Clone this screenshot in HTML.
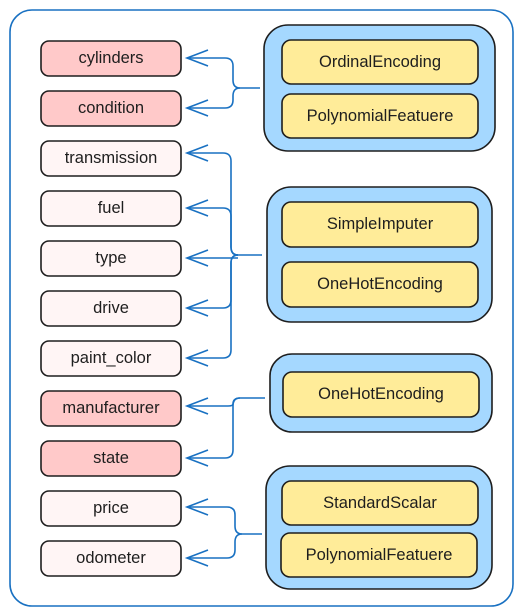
<!DOCTYPE html>
<html><head><meta charset="utf-8"><style>
html,body{margin:0;padding:0;background:#fff;width:523px;height:616px;overflow:hidden}
svg text{font-family:"Liberation Sans",sans-serif;font-size:16.5px;fill:#1e1e1e;text-anchor:middle;dominant-baseline:central}
</style></head><body>
<svg width="523" height="616" viewBox="0 0 523 616">
<rect x="10" y="10" width="503" height="596" rx="22" fill="#fff" stroke="#1971c2" stroke-width="1.6"/>
<g stroke="#1e1e1e" stroke-width="1.6">
<rect x="41" y="41" width="140" height="35" rx="8" fill="#ffc9c9"/>
<rect x="41" y="91" width="140" height="35" rx="8" fill="#ffc9c9"/>
<rect x="41" y="141" width="140" height="35" rx="8" fill="#fff5f5"/>
<rect x="41" y="191" width="140" height="35" rx="8" fill="#fff5f5"/>
<rect x="41" y="241" width="140" height="35" rx="8" fill="#fff5f5"/>
<rect x="41" y="291" width="140" height="35" rx="8" fill="#fff5f5"/>
<rect x="41" y="341" width="140" height="35" rx="8" fill="#fff5f5"/>
<rect x="41" y="391" width="140" height="35" rx="8" fill="#ffc9c9"/>
<rect x="41" y="441" width="140" height="35" rx="8" fill="#ffc9c9"/>
<rect x="41" y="491" width="140" height="35" rx="8" fill="#fff5f5"/>
<rect x="41" y="541" width="140" height="35" rx="8" fill="#fff5f5"/>
<rect x="264" y="25" width="231" height="126" rx="24" fill="#a5d8ff"/>
<rect x="267" y="187" width="225" height="135" rx="24" fill="#a5d8ff"/>
<rect x="270" y="354" width="222" height="78" rx="22" fill="#a5d8ff"/>
<rect x="266" y="466" width="226" height="123" rx="24" fill="#a5d8ff"/>
<rect x="282" y="40" width="196" height="44" rx="9" fill="#ffec99"/>
<rect x="282" y="94" width="196" height="44" rx="9" fill="#ffec99"/>
<rect x="282" y="202" width="196" height="45" rx="9" fill="#ffec99"/>
<rect x="282" y="262" width="196" height="45" rx="9" fill="#ffec99"/>
<rect x="283" y="372" width="196" height="45" rx="9" fill="#ffec99"/>
<rect x="282" y="481" width="196" height="44" rx="9" fill="#ffec99"/>
<rect x="281" y="533" width="196" height="44" rx="9" fill="#ffec99"/>
</g>
<g fill="none" stroke="#1971c2" stroke-width="1.6">
<path d="M260 88 H240 Q233 88 233 80 V66 Q233 58 225 58 H187"/>
<path d="M240 88 Q233 88 233 96 V100 Q233 108 225 108 H187"/>
<path d="M262 255 H238 Q231 255 231 247 V161 Q231 153 223 153 H187"/>
<path d="M238 255 Q231 255 231 247 V216 Q231 208 223 208 H187"/>
<path d="M238 258 H187"/>
<path d="M238 255 Q231 255 231 263 V300 Q231 308 223 308 H187"/>
<path d="M238 255 Q231 255 231 263 V350 Q231 358 223 358 H187"/>
<path d="M265 398 H240 Q233 398 233 404 Q233 406 228 406 H187"/>
<path d="M240 398 Q233 398 233 406 V450 Q233 458 225 458 H187"/>
<path d="M262 534 H242 Q235 534 235 526 V515 Q235 507 227 507 H187"/>
<path d="M242 534 Q235 534 235 542 V550 Q235 558 227 558 H187"/>
<path d="M208 50 L187 58 L208 66 M208 100 L187 108 L208 116 M208 145 L187 153 L208 161 M208 200 L187 208 L208 216 M208 250 L187 258 L208 266 M208 300 L187 308 L208 316 M208 350 L187 358 L208 366 M208 398 L187 406 L208 414 M208 450 L187 458 L208 466 M208 499 L187 507 L208 515 M208 550 L187 558 L208 566"/>
</g>
<text x="111" y="58">cylinders</text>
<text x="111" y="108">condition</text>
<text x="111" y="158">transmission</text>
<text x="111" y="208">fuel</text>
<text x="111" y="258">type</text>
<text x="111" y="308">drive</text>
<text x="111" y="358">paint_color</text>
<text x="111" y="408">manufacturer</text>
<text x="111" y="458">state</text>
<text x="111" y="508">price</text>
<text x="111" y="558">odometer</text>
<text x="380" y="62">OrdinalEncoding</text>
<text x="380" y="116">PolynomialFeatuere</text>
<text x="380" y="224">SimpleImputer</text>
<text x="380" y="284">OneHotEncoding</text>
<text x="381" y="394">OneHotEncoding</text>
<text x="380" y="503">StandardScalar</text>
<text x="379" y="555">PolynomialFeatuere</text>
</svg>
</body></html>
